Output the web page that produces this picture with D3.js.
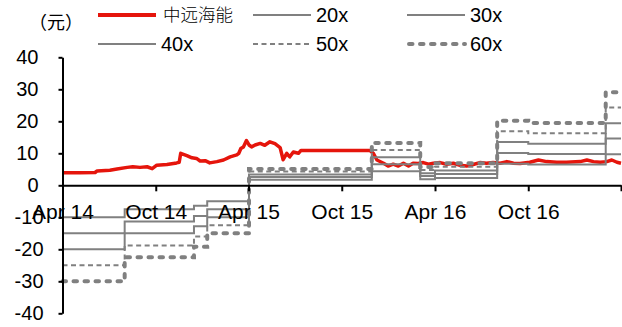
<!DOCTYPE html>
<html>
<head>
<meta charset="utf-8">
<script src="https://cdn.jsdelivr.net/npm/d3@7"></script>
<style>
  body { margin: 0; background: #fff; }
  text { font-family: "Liberation Sans", Arial, sans-serif; fill: #000; }
</style>
</head>
<body>
<svg id="chart" width="622" height="327"></svg>
<script>
// share price (yuan)
const priceDates = [
  "2014-04-02","2014-05-05","2014-06-04","2014-06-08","2014-07-03","2014-07-17","2014-08-06","2014-08-17",
  "2014-08-31","2014-09-14","2014-09-24","2014-10-03","2014-10-23","2014-11-11","2014-11-16","2014-11-19",
  "2014-12-01","2014-12-11","2014-12-20","2014-12-27","2015-01-06","2015-01-15","2015-01-29","2015-02-11",
  "2015-02-24","2015-03-09","2015-03-13","2015-03-17","2015-03-22","2015-03-28","2015-04-02","2015-04-07",
  "2015-04-14","2015-04-24","2015-05-03","2015-05-13","2015-05-23","2015-06-02","2015-06-08","2015-06-15",
  "2015-06-21","2015-06-28","2015-07-08","2015-07-13","2015-11-25","2015-12-02","2015-12-09","2015-12-22",
  "2015-12-31","2016-01-10","2016-01-20","2016-01-30","2016-02-09","2016-02-18","2016-02-28","2016-03-09",
  "2016-03-19","2016-03-29","2016-04-11","2016-04-24","2016-05-07","2016-05-20","2016-06-02","2016-06-15",
  "2016-06-28","2016-07-11","2016-07-24","2016-08-07","2016-08-20","2016-09-02","2016-09-15","2016-10-04",
  "2016-10-21","2016-11-06","2016-11-26","2016-12-15","2017-01-11","2017-01-24","2017-02-06","2017-02-19",
  "2017-03-04","2017-03-14","2017-03-24","2017-04-01"
];
const priceValues = [
  3.9, 3.9, 4.0, 4.5, 4.7, 5.1, 5.6, 5.8,
  5.6, 5.8, 5.2, 6.3, 6.5, 7.0, 7.2, 10.0,
  9.3, 8.6, 8.4, 7.6, 7.7, 7.0, 7.4, 7.9,
  8.9, 9.5, 10.0, 11.5, 12.0, 14.0, 12.6, 12.0,
  12.6, 13.1, 12.5, 13.6, 13.0, 11.8, 8.0, 10.0,
  8.9, 10.4, 10.0, 10.9, 10.9, 10.0, 7.9, 6.9,
  6.0, 6.6, 6.0, 6.9, 6.0, 6.9, 6.8, 7.1,
  6.6, 6.9, 7.1, 6.6, 6.9, 6.25, 6.0, 6.5,
  7.1, 6.9, 7.1, 6.9, 7.4, 6.9, 6.8, 7.2,
  7.9, 7.4, 7.2, 7.2, 7.4, 7.9, 7.4, 7.2,
  7.4, 7.9, 7.2, 6.9
];

// PE band steps: start dates (last entry closes the final step)
const stepDates = ["2014-04-01","2014-08-01","2014-12-15","2015-01-10","2015-04-02","2015-11-29",
  "2016-03-03","2016-04-01","2016-08-01","2016-10-01","2017-03-02","2017-04-01"];
const pe20 = [-10, -7.5, -6.4, -5, 1.7, 4.4, 1.9, 2.3, 6.7, 6.5, 9.7];
const pe30 = [-15, -11.3, -9.6, -7.5, 2.6, 6.6, 2.9, 3.5, 10.1, 9.8, 14.6];
const pe40 = [-20, -15, -12.8, -10, 3.4, 8.8, 3.8, 4.6, 13.5, 13, 19.4];
const pe50 = [-25, -18.8, -16, -12.5, 4.3, 11, 4.8, 5.8, 16.9, 16.3, 24.3];
const pe60 = [-30, -22.5, -19.2, -15, 5.1, 13.2, 5.7, 6.9, 20.2, 19.5, 29.1];

const yTicks = [-40, -30, -20, -10, 0, 10, 20, 30, 40];
const xTickDates = ["2014-04-01","2014-10-01","2015-04-01","2015-10-01","2016-04-01","2016-10-01","2017-04-01"];

const parse = d3.timeParse("%Y-%m-%d");
const svg = d3.select("#chart");

const red = "#e5150c";
const gray = "#808080";

const x = d3.scaleTime()
  .domain([parse("2014-04-01"), parse("2017-04-01")])
  .range([62.5, 621]);
const y = d3.scaleLinear().domain([-40, 40]).range([313.3, 57.3]);

const lineStep = d3.line()
  .x(d => x(d[0]))
  .y(d => y(d[1]))
  .curve(d3.curveStepAfter);
const linePrice = d3.line().x(d => x(d[0])).y(d => y(d[1]));

// price first (series order), then the bands on top
const price = priceDates.map((d, i) => [parse(d), priceValues[i]]);
svg.append("path")
  .attr("d", linePrice(price))
  .attr("fill", "none")
  .attr("stroke", red)
  .attr("stroke-width", 3.5)
  .attr("stroke-linejoin", "round");

const bands = [
  { name: "20x", values: pe20, width: 2, dash: null, cap: "butt" },
  { name: "30x", values: pe30, width: 2, dash: null, cap: "butt" },
  { name: "40x", values: pe40, width: 2, dash: null, cap: "butt" },
  { name: "50x", values: pe50, width: 2, dash: "5,3.5", cap: "butt" },
  { name: "60x", values: pe60, width: 4, dash: "3.5,7.5", cap: "round" }
];

bands.forEach(b => {
  const pts = stepDates.map((d, i) => [parse(d), b.values[Math.min(i, b.values.length - 1)]]);
  svg.append("path")
    .attr("d", lineStep(pts))
    .attr("fill", "none")
    .attr("stroke", gray)
    .attr("stroke-width", b.width)
    .attr("stroke-dasharray", b.dash)
    .attr("stroke-linecap", b.cap);
});

// y axis
const yAxis = svg.append("g")
  .attr("transform", `translate(${x.range()[0]},0)`)
  .call(d3.axisLeft(y).tickValues(yTicks).tickSize(4).tickSizeOuter(0).tickPadding(20).tickFormat(d => String(d)));
yAxis.select(".domain").attr("stroke", "#000").attr("stroke-width", 2);
yAxis.selectAll(".tick line").attr("stroke", "#000").attr("stroke-width", 2);
yAxis.selectAll(".tick text")
  .attr("font-size", 20)
  .attr("font-family", null)
  .attr("x", d => d < 0 ? -19 : -24);

// x axis on the zero line
const xAxis = svg.append("g")
  .attr("transform", `translate(0,${y(0)})`)
  .call(d3.axisBottom(x)
    .tickValues(xTickDates.map(parse))
    .tickSize(6)
    .tickSizeOuter(0)
    .tickFormat((d, i) => i === xTickDates.length - 1 ? "" : d3.timeFormat("%b %y")(d)));
xAxis.select(".domain").attr("stroke", "#000").attr("stroke-width", 2);
xAxis.selectAll(".tick line").attr("stroke", "#000").attr("stroke-width", 2);
xAxis.selectAll(".tick text")
  .attr("font-size", 21)
  .attr("font-family", null)
  .attr("y", 33.5)
  .attr("dy", null);

// unit
svg.append("text")
  .attr("x", 29).attr("y", 29)
  .attr("font-size", 18)
  .style("font-family", '"Noto Sans CJK SC", sans-serif')
  .text("（元）");

// legend
const legendItems = [
  { name: "中远海能", color: red, width: 4, dash: null, cap: "butt", col: 0, row: 0 },
  { name: "20x", color: gray, width: 2, dash: null, cap: "butt", col: 1, row: 0 },
  { name: "30x", color: gray, width: 2, dash: null, cap: "butt", col: 2, row: 0 },
  { name: "40x", color: gray, width: 2, dash: null, cap: "butt", col: 0, row: 1 },
  { name: "50x", color: gray, width: 2, dash: "5,3.5", cap: "butt", col: 1, row: 1 },
  { name: "60x", color: gray, width: 4, dash: "3.5,7.5", cap: "round", col: 2, row: 1 }
];
const colX = [98, 253, 407];
const rowY = [15, 44];
const legend = svg.append("g");
legendItems.forEach(it => {
  const lx = colX[it.col], ly = rowY[it.row];
  legend.append("line")
    .attr("x1", lx + (it.cap === "round" ? 2 : 0)).attr("x2", lx + 58)
    .attr("y1", ly).attr("y2", ly)
    .attr("stroke", it.color)
    .attr("stroke-width", it.width)
    .attr("stroke-dasharray", it.dash)
    .attr("stroke-linecap", it.cap);
  const t = legend.append("text")
    .attr("x", lx + (it.col === 0 && it.row === 0 ? 65 : 63))
    .attr("y", ly + 7)
    .attr("font-size", 20)
    .text(it.name);
  if (it.col === 0 && it.row === 0) {
    t.attr("font-size", 17.5).attr("y", ly + 6)
      .style("font-family", '"Noto Sans CJK SC", sans-serif')
      .style("font-weight", 300);
  }
});
</script>
</body>
</html>
